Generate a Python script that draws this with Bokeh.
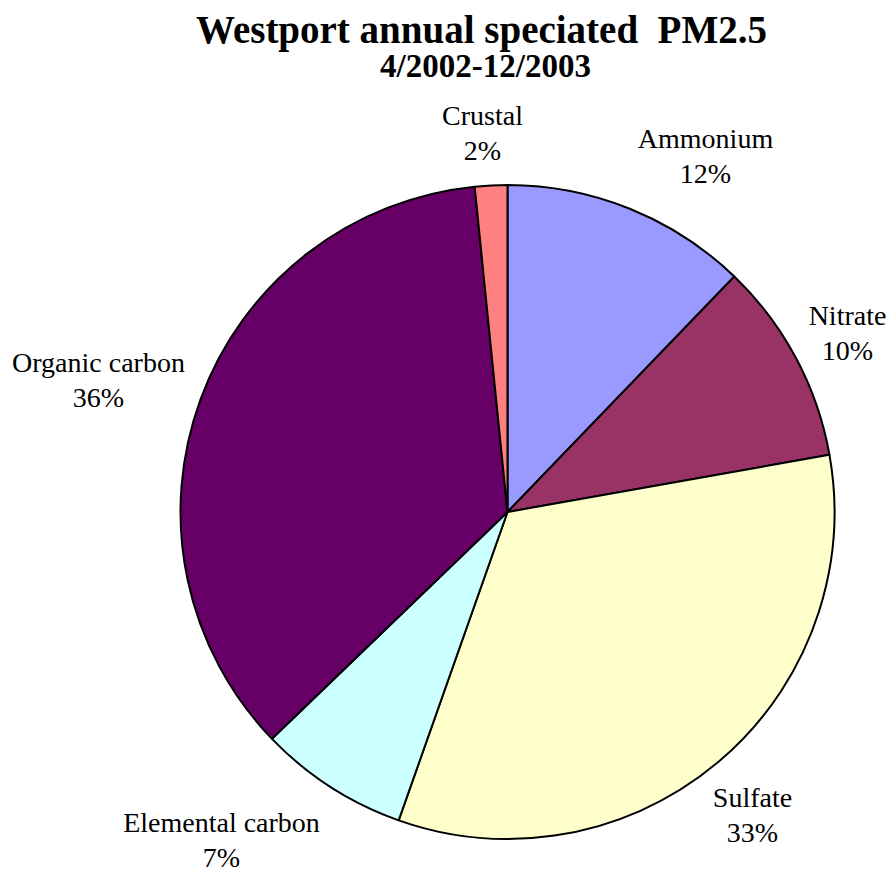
import math
from bokeh.plotting import figure
from bokeh.models import Range1d, ColumnDataSource
from bokeh.core.properties import value
from bokeh.embed import file_html
from bokeh.resources import INLINE

# Annual speciated PM2.5 composition, Westport (percent of total mass)
components = ["Ammonium", "Nitrate", "Sulfate", "Elemental carbon", "Organic carbon", "Crustal"]
percent = [12.2, 10.0, 33.2, 7.4, 35.6, 1.6]
colors = ["#9999FF", "#993366", "#FFFFCC", "#CCFFFF", "#660066", "#FF8080"]

title_text = "Westport annual speciated\u00a0 PM2.5"
subtitle_text = "4/2002-12/2003"

W, H = 892, 873
CX, CY = 507, H - 511.5   # pie centre (data units = pixels, y up)
R = 327

# label block centres in page pixels (x, y from top)
label_pos = {
    "Ammonium": (705, 155),
    "Nitrate": (847, 332),
    "Sulfate": (752, 814),
    "Elemental carbon": (221, 839),
    "Organic carbon": (98, 379),
    "Crustal": (482, 132),
}
LINE_GAP = 35

p = figure(width=W, height=H, x_range=Range1d(0, W), y_range=Range1d(0, H),
           output_backend="svg", toolbar_location=None, min_border=0)
p.axis.visible = False
p.grid.visible = False
p.outline_line_color = None
p.background_fill_color = "white"
p.border_fill_color = "white"

total = sum(percent)
cum = [0.0]
for v in percent:
    cum.append(cum[-1] + v / total)
start = [math.pi / 2 - 2 * math.pi * c for c in cum[:-1]]
end = [math.pi / 2 - 2 * math.pi * c for c in cum[1:]]

src = ColumnDataSource(dict(name=components, start=start, end=end, color=colors))
p.wedge(x=CX, y=CY, radius=R, start_angle="start", end_angle="end", direction="clock",
        fill_color="color", line_color="black", line_width=2, source=src)

# category and percentage labels
lx, ly, lt = [], [], []
for name, v in zip(components, percent):
    x, yc = label_pos[name]
    lx += [x, x]
    ly += [H - (yc - LINE_GAP / 2), H - (yc + LINE_GAP / 2)]
    lt += [name, f"{round(v / total * 100):d}%"]
p.text(x=lx, y=ly, text=lt, text_font=value("Liberation Serif"), text_font_size="28px",
       text_align="center", text_baseline="middle", text_color="black")

# chart heading
p.text(x=[481], y=[H - 29], text=[title_text], text_font=value("Liberation Serif"),
       text_font_size="39px", text_font_style="bold", text_align="center",
       text_baseline="middle", text_color="black")
p.text(x=[485], y=[H - 65], text=[subtitle_text], text_font=value("Liberation Serif"),
       text_font_size="33px", text_font_style="bold", text_align="center",
       text_baseline="middle", text_color="black")

open("out.html", "w").write(file_html(p, INLINE))
